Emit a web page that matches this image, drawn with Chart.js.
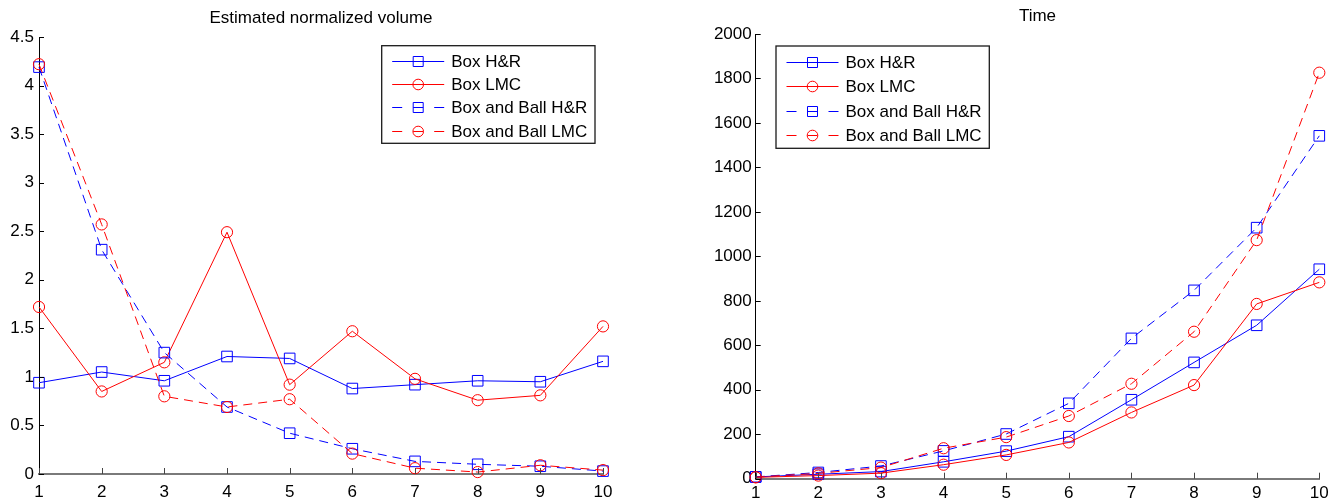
<!DOCTYPE html>
<html>
<head>
<meta charset="utf-8">
<script src="https://cdn.jsdelivr.net/npm/chart.js@4/dist/chart.umd.min.js"></script>
<style>
  html, body { margin: 0; padding: 0; background: #fff; }
  #wrap { position: relative; width: 1341px; height: 501px; overflow: hidden; }
  .pane { position: absolute; top: 0; height: 501px; }
</style>
</head>
<body>
<div id="wrap">
  <div class="pane" style="left:0;width:670px"><canvas id="c1" width="670" height="501"></canvas></div>
  <div class="pane" style="left:670px;width:671px"><canvas id="c2" width="671" height="501"></canvas></div>
</div>
<script>
// ---------- data ----------
const categories = ['1', '2', '3', '4', '5', '6', '7', '8', '9', '10'];
const seriesNames = ['Box H&R', 'Box LMC', 'Box and Ball H&R', 'Box and Ball LMC'];

// Estimated normalized volume
const volBoxHR   = [0.94, 1.05, 0.96, 1.21, 1.19, 0.88, 0.92, 0.96, 0.95, 1.16];
const volBoxLMC  = [1.72, 0.85, 1.15, 2.49, 0.92, 1.47, 0.98, 0.76, 0.81, 1.52];
const volBallHR  = [4.19, 2.31, 1.25, 0.69, 0.42, 0.26, 0.13, 0.10, 0.08, 0.03];
const volBallLMC = [4.22, 2.57, 0.80, 0.69, 0.77, 0.21, 0.06, 0.02, 0.09, 0.04];

// Time
const timeBoxHR   = [8, 20, 32, 76, 124, 189, 355, 523, 690, 942];
const timeBoxLMC  = [6, 14, 25, 63, 107, 163, 298, 421, 786, 883];
const timeBallHR  = [8, 28, 57, 125, 201, 339, 631, 847, 1129, 1542];
const timeBallLMC = [7, 24, 50, 137, 187, 282, 427, 661, 1073, 1826];

const volTicks  = { min: 0, max: 4.5, step: 0.5 };
const timeTicks = { min: 0, max: 2000, step: 200 };

// ---------- styling ----------
const BLUE = '#0000ff', RED = '#ff0000';
const DASH = [9, 6];
Chart.defaults.font.family = '"Liberation Sans", Arial, Helvetica, sans-serif';
Chart.defaults.font.size = 17;
Chart.defaults.color = '#000';

function makeDatasets(a, b, c, d) {
  const specs = [
    { data: a, color: BLUE, style: 'rect', dash: [] , order: 3},
    { data: b, color: RED, style: 'circle', dash: [], order: 2 },
    { data: c, color: BLUE, style: 'rect', dash: DASH, order: 1 },
    { data: d, color: RED, style: 'circle', dash: DASH, order: 0 }
  ];
  return specs.map((s, i) => ({
    label: seriesNames[i],
    data: s.data,
    borderColor: s.color,
    borderWidth: 1,
    borderDash: s.dash,
    pointStyle: s.style,
    pointRadius: s.style === 'rect' ? 7.5 : 5.6,
    pointHoverRadius: s.style === 'rect' ? 7.5 : 5.6,
    pointBorderWidth: 1,
    pointBorderColor: s.color,
    pointBackgroundColor: 'rgba(0,0,0,0)',
    fill: false,
    tension: 0,
    clip: false,
    order: s.order
  }));
}

// inward tick marks (MATLAB style)
const inwardTicks = {
  id: 'inwardTicks',
  afterDatasetsDraw(chart) {
    const ctx = chart.ctx;
    const xs = chart.scales.x, ys = chart.scales.y;
    const a = chart.chartArea;
    ctx.save();
    ctx.lineWidth = 1;
    ctx.strokeStyle = '#000';
    ys.ticks.forEach(t => {
      const py = Math.round(ys.getPixelForValue(t.value)) + 0.5;
      ctx.beginPath();
      ctx.moveTo(a.left, py);
      ctx.lineTo(a.left + 5, py);
      ctx.stroke();
    });
    ctx.strokeStyle = '#444';
    xs.ticks.forEach((t, i) => {
      const px = Math.round(xs.getPixelForTick(i)) + 0.5;
      ctx.beginPath();
      ctx.moveTo(px, a.bottom);
      ctx.lineTo(px, a.bottom - 6);
      ctx.stroke();
    });
    ctx.restore();
  }
};

// legend box drawn inside the axes
const boxLegend = {
  id: 'boxLegend',
  afterDraw(chart, args, o) {
    const ctx = chart.ctx;
    ctx.save();
    ctx.fillStyle = '#fff';
    ctx.fillRect(o.x, o.y, o.w, o.h);
    ctx.strokeStyle = '#1a1a1a';
    ctx.lineWidth = 1.3;
    ctx.strokeRect(o.x, o.y, o.w, o.h);
    ctx.font = '17px "Liberation Sans", Arial, sans-serif';
    ctx.textBaseline = 'middle';
    ctx.textAlign = 'left';
    chart.data.datasets.forEach((ds, i) => {
      const cy = Math.round(o.y + o.first + i * o.gap) + 0.5;
      ctx.strokeStyle = ds.borderColor;
      ctx.lineWidth = 1;
      ctx.setLineDash(ds.borderDash.length ? [10, 11] : []);
      ctx.beginPath();
      ctx.moveTo(o.x + 10.5, cy);
      ctx.lineTo(o.x + 62.5, cy);
      ctx.stroke();
      ctx.setLineDash([]);
      const mx = o.x + 36.5;
      ctx.beginPath();
      if (ds.pointStyle === 'rect') {
        ctx.rect(mx - 5, cy - 5, 10, 10);
      } else {
        ctx.arc(mx, cy, 5.3, 0, Math.PI * 2);
      }
      ctx.stroke();
      ctx.fillStyle = '#000';
      ctx.fillText(ds.label, o.x + 69.5, cy + 0.5);
    });
    ctx.restore();
  }
};

function makeChart(id, title, datasets, yt, geo) {
  return new Chart(document.getElementById(id), {
    type: 'line',
    data: { labels: categories, datasets },
    plugins: [inwardTicks, boxLegend],
    options: {
      responsive: false,
      animation: false,
      devicePixelRatio: 1,
      events: [],
      layout: { padding: { left: 0, right: geo.padRight, top: 0, bottom: 0 } },
      plugins: {
        legend: { display: false },
        tooltip: { enabled: false },
        title: {
          display: true,
          text: title,
          fullSize: false,
          color: '#000',
          font: { size: 17, weight: 'normal' },
          padding: { top: geo.titleTop, bottom: geo.titleBottom }
        },
        boxLegend: geo.legend
      },
      scales: {
        x: {
          type: 'category',
          offset: false,
          grid: { display: false, drawTicks: false },
          border: { display: true, color: '#7a7a7a', width: 2 },
          ticks: { padding: geo.xPad, maxRotation: 0, autoSkip: false, color: '#000' },
          afterFit: s => { s.height = geo.xHeight; }
        },
        y: {
          type: 'linear',
          min: yt.min,
          max: yt.max,
          grid: { display: false, drawTicks: false },
          border: { display: true, color: '#000', width: 1 },
          ticks: { stepSize: yt.step, padding: geo.yPad, color: '#000', callback: v => String(v) },
          afterFit: s => { s.width = geo.yWidth; }
        }
      }
    }
  });
}

makeChart('c1', 'Estimated normalized volume',
  makeDatasets(volBoxHR, volBoxLMC, volBallHR, volBallLMC), volTicks,
  { padRight: 67, titleTop: 8, titleBottom: 8.6, xHeight: 27, yWidth: 39, xPad: 8, yPad: 5,
    legend: { x: 381.7, y: 45.7, w: 213.3, h: 97.6, first: 15.3, gap: 23.2 } });

makeChart('c2', 'Time',
  makeDatasets(timeBoxHR, timeBoxLMC, timeBallHR, timeBallLMC), timeTicks,
  { padRight: 21.7, titleTop: 6, titleBottom: 7.6, xHeight: 22.3, yWidth: 85.7, xPad: 4, yPad: 4,
    legend: { x: 106, y: 46, w: 213.3, h: 102.3, first: 15.7, gap: 24.4 } });
</script>
</body>
</html>
